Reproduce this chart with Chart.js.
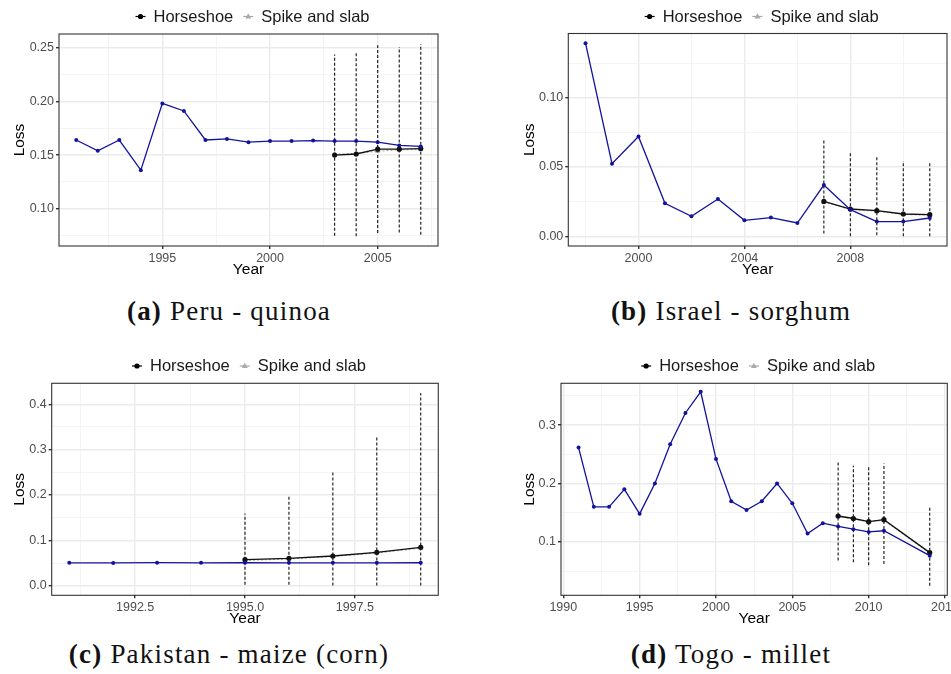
<!DOCTYPE html>
<html>
<head>
<meta charset="utf-8">
<script src="https://cdn.jsdelivr.net/npm/chart.js@4.4.1/dist/chart.umd.min.js"></script>
<style>
  html, body { margin: 0; padding: 0; background: #fff; }
  body { width: 951px; height: 674px; position: relative; overflow: hidden; }
  .panel { position: absolute; }
  .cap {
    position: absolute; transform: translateX(-50%);
    font-family: "Liberation Serif", serif; font-size: 27px; line-height: 30px;
    letter-spacing: 1.2px; color: #111; white-space: nowrap;
  }
</style>
</head>
<body>
<div class="panel" style="left:0;top:0;width:475px;height:279px"><canvas id="chartA"></canvas></div>
<div class="panel" style="left:475px;top:0;width:476px;height:279px"><canvas id="chartB"></canvas></div>
<div class="panel" style="left:0;top:340px;width:475px;height:288px"><canvas id="chartC"></canvas></div>
<div class="panel" style="left:475px;top:340px;width:500px;height:288px"><canvas id="chartD"></canvas></div>

<div class="cap" style="left:229px;top:296px"><b>(a)</b> Peru - quinoa</div>
<div class="cap" style="left:731px;top:296px"><b>(b)</b> Israel - sorghum</div>
<div class="cap" style="left:229px;top:639px"><b>(c)</b> Pakistan - maize (corn)</div>
<div class="cap" style="left:731px;top:639px"><b>(d)</b> Togo - millet</div>

<script>
// (a) Peru - quinoa
const yearsA = [1991, 1992, 1993, 1994, 1995, 1996, 1997, 1998, 1999, 2000, 2001, 2002, 2003, 2004, 2005, 2006, 2007];
const lossA = [0.164, 0.154, 0.164, 0.136, 0.198, 0.191, 0.164, 0.165, 0.162, 0.163, 0.163, 0.1635, 0.163, 0.163, 0.162, 0.159, 0.158];
const predYearsA = [2003, 2004, 2005, 2006, 2007];
const horseshoeA = [0.150, 0.151, 0.1555, 0.1555, 0.156];
const spikeSlabA = [0.151, 0.1515, 0.1535, 0.155, 0.155];
const lowerA = [0.075, 0.0745, 0.0775, 0.078, 0.076];
const upperA = [0.2435, 0.246, 0.252, 0.2505, 0.253];
const xMajorA = [1995, 2000, 2005];
const xMinorA = [1992.5, 1997.5, 2002.5, 2007.5];
const yMajorA = [0.10, 0.15, 0.20, 0.25];
const yMinorA = [0.075, 0.125, 0.175, 0.225];

// (b) Israel - sorghum
const yearsB = [1998, 1999, 2000, 2001, 2002, 2003, 2004, 2005, 2006, 2007, 2008, 2009, 2010, 2011];
const lossB = [0.1394, 0.0524, 0.0721, 0.0238, 0.0144, 0.0269, 0.0115, 0.0135, 0.0096, 0.037, 0.0192, 0.0106, 0.0106, 0.0132];
const predYearsB = [2007, 2008, 2009, 2010, 2011];
const horseshoeB = [0.0252, 0.0197, 0.0185, 0.0161, 0.0156];
const spikeSlabB = [0.0248, 0.0194, 0.018, 0.0158, 0.0152];
const lowerB = [0.002, 0.0, 0.0007, 0.0, 0.0];
const upperB = [0.07, 0.0608, 0.0584, 0.0543, 0.0536];
const xMajorB = [2000, 2004, 2008];
const xMinorB = [1998, 2002, 2006, 2010];
const yMajorB = [0.00, 0.05, 0.10];
const yMinorB = [0.025, 0.075, 0.125];

// (c) Pakistan - maize (corn)
const yearsC = [1991, 1992, 1993, 1994, 1995, 1996, 1997, 1998, 1999];
const lossC = [0.0505, 0.0502, 0.0508, 0.0505, 0.0506, 0.0505, 0.0504, 0.0505, 0.0506];
const predYearsC = [1995, 1996, 1997, 1998, 1999];
const horseshoeC = [0.0574, 0.0603, 0.0654, 0.0735, 0.0846];
const spikeSlabC = [0.0555, 0.059, 0.0645, 0.072, 0.083];
const lowerC = [0.002, 0.002, 0.0005, 0.0005, 0.0005];
const upperC = [0.159, 0.197, 0.254, 0.329, 0.425];
const xMajorC = [1992.5, 1995, 1997.5];
const xMinorC = [1991.25, 1993.75, 1996.25, 1998.75];
const yMajorC = [0.0, 0.1, 0.2, 0.3, 0.4];
const yMinorC = [0.05, 0.15, 0.25, 0.35];

// (d) Togo - millet
const yearsD = [1991, 1992, 1993, 1994, 1995, 1996, 1997, 1998, 1999, 2000, 2001, 2002, 2003, 2004, 2005, 2006, 2007, 2008, 2009, 2010, 2011, 2014];
const lossD = [0.2615, 0.160, 0.160, 0.190, 0.148, 0.200, 0.267, 0.3207, 0.357, 0.242, 0.1695, 0.1546, 0.1695, 0.200, 0.166, 0.1144, 0.132, 0.1264, 0.1218, 0.117, 0.119, 0.0764];
const predYearsD = [2008, 2009, 2010, 2011, 2014];
const horseshoeD = [0.1443, 0.140, 0.1345, 0.138, 0.0816];
const spikeSlabD = [0.1435, 0.1395, 0.134, 0.137, 0.0805];
const lowerD = [0.068, 0.065, 0.060, 0.062, 0.0247];
const upperD = [0.238, 0.2305, 0.2276, 0.234, 0.160];
const xMajorD = [1990, 1995, 2000, 2005, 2010, 2015];
const xMinorD = [1992.5, 1997.5, 2002.5, 2007.5, 2012.5];
const yMajorD = [0.1, 0.2, 0.3];
const yMinorD = [0.05, 0.15, 0.25, 0.35];

const BLUE = '#12129e';
const SANS = '"Liberation Sans", Arial, sans-serif';

function isIn(list, v) {
    return list.some(m => Math.abs(m - v) < 1e-9);
}

function zip(xs, ys) {
    return xs.map((x, i) => ({x: x, y: ys[i]}));
}

// ggplot style axis with major + minor grid
function axis(major, minor, min, max, digits, title, fit, extra) {
    const all = major.concat(minor).sort((a, b) => a - b);
    return Object.assign({
        type: 'linear',
        min: min,
        max: max,
        afterBuildTicks: (scale) => { scale.ticks = all.map(v => ({value: v})); },
        ticks: {
            autoSkip: false,
            maxRotation: 0,
            color: '#4d4d4d',
            font: {family: SANS, size: 12.5},
            callback: (v) => isIn(major, v) ? v.toFixed(digits) : ''
        },
        grid: {
            color: (ctx) => ctx.tick && isIn(major, ctx.tick.value) ? '#ebebeb' : '#f1f1f1',
            lineWidth: (ctx) => ctx.tick && isIn(major, ctx.tick.value) ? 1.4 : 0.8,
            tickColor: (ctx) => ctx.tick && isIn(major, ctx.tick.value) ? '#333' : 'rgba(0,0,0,0)',
            tickLength: 3
        },
        border: {display: false},
        title: {display: true, text: title, color: '#000', font: {family: SANS, size: 15.5}},
        afterFit: fit
    }, extra || {});
}

const panelBorder = {
    id: 'panelBorder',
    afterDatasetsDraw(chart) {
        const a = chart.chartArea;
        const ctx = chart.ctx;
        ctx.save();
        ctx.strokeStyle = '#333';
        ctx.lineWidth = 1.1;
        ctx.strokeRect(a.left, a.top, a.right - a.left, a.bottom - a.top);
        ctx.restore();
    }
};

// legend drawn like ggplot: key line + point, then label
const topLegend = {
    id: 'topLegend',
    afterDraw(chart, args, opts) {
        const ctx = chart.ctx;
        const a = chart.chartArea;
        ctx.save();
        ctx.font = '16.5px ' + SANS;
        const items = [
            {label: 'Horseshoe', color: '#000', shape: 'circle'},
            {label: 'Spike and slab', color: '#aaa', shape: 'triangle'}
        ];
        const keyW = 10, gapKey = 8, gapItem = 10;
        let total = 0;
        items.forEach((it, i) => {
            it.w = ctx.measureText(it.label).width;
            total += keyW + gapKey + it.w + (i < items.length - 1 ? gapItem : 0);
        });
        let x = (a.left + a.right) / 2 + 4 - total / 2;
        const y = opts.y;
        items.forEach(it => {
            ctx.strokeStyle = it.color;
            ctx.fillStyle = it.color;
            ctx.lineWidth = 1.2;
            ctx.beginPath();
            ctx.moveTo(x, y);
            ctx.lineTo(x + keyW, y);
            ctx.stroke();
            ctx.beginPath();
            if (it.shape === 'circle') {
                ctx.arc(x + keyW / 2, y, 2.6, 0, Math.PI * 2);
            } else {
                ctx.moveTo(x + keyW / 2, y - 3.2);
                ctx.lineTo(x + keyW / 2 + 3, y + 2);
                ctx.lineTo(x + keyW / 2 - 3, y + 2);
                ctx.closePath();
            }
            ctx.fill();
            x += keyW + gapKey;
            ctx.fillStyle = '#1a1a1a';
            ctx.textBaseline = 'middle';
            ctx.fillText(it.label, x, y + 0.5);
            x += it.w + gapItem;
        });
        ctx.restore();
    }
};

function makeChart(id, p) {
    const datasets = [
        {
            label: 'Observed',
            data: zip(p.years, p.loss),
            borderColor: BLUE, backgroundColor: BLUE,
            borderWidth: 1.3, pointRadius: 2, pointBorderWidth: 0
        },
        {
            label: 'Horseshoe',
            data: zip(p.predYears, p.horseshoe),
            borderColor: '#111', backgroundColor: '#111',
            borderWidth: 1.3, pointRadius: 2.6, pointBorderWidth: 0
        },
        {
            label: 'Spike and slab',
            data: zip(p.predYears, p.spikeSlab),
            borderColor: '#a8a8a8', backgroundColor: '#a8a8a8',
            borderWidth: 1.1, borderDash: [2, 2],
            pointStyle: 'triangle', pointRadius: 3, pointBorderWidth: 0
        }
    ];
    p.predYears.forEach((yr, i) => {
        datasets.push({
            label: 'ci',
            data: [{x: yr, y: p.lower[i]}, {x: yr, y: p.upper[i]}],
            borderColor: '#111', borderWidth: 1.1, borderDash: [3, 2],
            pointRadius: 0
        });
    });
    return new Chart(document.getElementById(id), {
        type: 'line',
        data: {datasets: datasets},
        options: {
            responsive: true,
            maintainAspectRatio: false,
            animation: false,
            layout: {padding: p.padding},
            plugins: {
                legend: {display: false},
                tooltip: {enabled: false},
                topLegend: {y: p.legendY}
            },
            scales: {
                x: axis(p.xMajor, p.xMinor, p.xRange[0], p.xRange[1], p.xDigits, 'Year',
                    (s) => { s.height = p.xHeight; },
                    {title: {display: true, text: 'Year', color: '#000', padding: {top: 0, bottom: 0},
                        font: {family: SANS, size: 15.5}}}),
                y: axis(p.yMajor, p.yMinor, p.yRange[0], p.yRange[1], p.yDigits, 'Loss',
                    (s) => { s.width = p.yWidth; },
                    {title: {display: true, text: 'Loss', color: '#000', padding: {top: p.yTitlePad, bottom: 0},
                        font: {family: SANS, size: 15.5}}})
            }
        },
        plugins: [panelBorder, topLegend]
    });
}

// x tick label padding
Chart.defaults.scales.linear.ticks.padding = 2;

makeChart('chartA', {
    years: yearsA, loss: lossA, predYears: predYearsA, horseshoe: horseshoeA, spikeSlab: spikeSlabA,
    lower: lowerA, upper: upperA,
    xMajor: xMajorA, xMinor: xMinorA, yMajor: yMajorA, yMinor: yMinorA,
    xRange: [1990.2, 2007.8], yRange: [0.0655, 0.2625], xDigits: 0, yDigits: 2,
    padding: {top: 34, right: 37, left: 0, bottom: 0}, xHeight: 33, yWidth: 59, yTitlePad: 10.5, legendY: 16.5
});

makeChart('chartB', {
    years: yearsB, loss: lossB, predYears: predYearsB, horseshoe: horseshoeB, spikeSlab: spikeSlabB,
    lower: lowerB, upper: upperB,
    xMajor: xMajorB, xMinor: xMinorB, yMajor: yMajorB, yMinor: yMinorB,
    xRange: [1997.35, 2011.65], yRange: [-0.007, 0.1464], xDigits: 0, yDigits: 2,
    padding: {top: 33.5, right: 3.3, left: 0, bottom: 0}, xHeight: 33, yWidth: 93.3, yTitlePad: 45, legendY: 16.5
});

makeChart('chartC', {
    years: yearsC, loss: lossC, predYears: predYearsC, horseshoe: horseshoeC, spikeSlab: spikeSlabC,
    lower: lowerC, upper: upperC,
    xMajor: xMajorC, xMinor: xMinorC, yMajor: yMajorC, yMinor: yMinorC,
    xRange: [1990.6, 1999.4], yRange: [-0.0212, 0.4462], xDigits: 1, yDigits: 1,
    padding: {top: 43.3, right: 36.7, left: 0, bottom: 0}, xHeight: 32.7, yWidth: 51.7, yTitlePad: 10.5, legendY: 26
});

makeChart('chartD', {
    years: yearsD, loss: lossD, predYears: predYearsD, horseshoe: horseshoeD, spikeSlab: spikeSlabD,
    lower: lowerD, upper: upperD,
    xMajor: xMajorD, xMinor: xMinorD, yMajor: yMajorD, yMinor: yMinorD,
    xRange: [1989.85, 2015.15], yRange: [0.0085, 0.3715], xDigits: 0, yDigits: 1,
    padding: {top: 43.3, right: 27.7, left: 0, bottom: 0}, xHeight: 32.7, yWidth: 86, yTitlePad: 45, legendY: 26
});
</script>
</body>
</html>
